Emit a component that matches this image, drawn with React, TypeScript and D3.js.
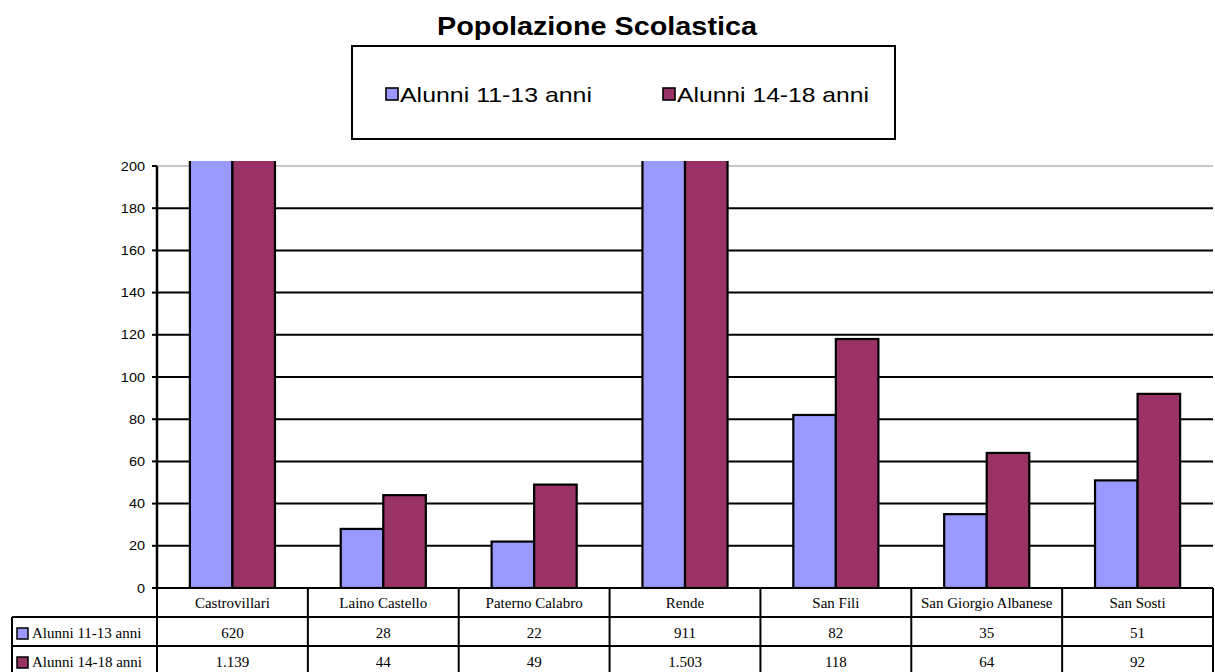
import React from "react";
import * as d3 from "d3";

const categories = [
  "Castrovillari",
  "Laino Castello",
  "Paterno Calabro",
  "Rende",
  "San Fili",
  "San Giorgio Albanese",
  "San Sosti",
];
const seriesNames = ["Alunni 11-13 anni", "Alunni 14-18 anni"];
const alunni1113 = [620, 28, 22, 911, 82, 35, 51];
const alunni1418 = [1139, 44, 49, 1503, 118, 64, 92];
const seriesColors = ["#9999FF", "#993366"];
const title = "Popolazione Scolastica";

const W = 1215;
const H = 672;
const plotLeft = 157;
const plotRight = 1213;
const plotTop = 161;
const yBottom = 588;
const yTopVal = 166;
const rowH = 29;
const legendColLeft = 12;

const it = d3.formatLocale({
  decimal: ",",
  thousands: ".",
  grouping: [3],
  currency: ["€", ""],
});
const fmt = it.format(",d");

export default function App() {
  const series = [alunni1113, alunni1418];
  const x0 = d3.scaleBand<string>().domain(categories).range([plotLeft, plotRight]).padding(0);
  const bw = x0.bandwidth();
  const pad = bw * 0.218;
  const x1 = d3.scaleBand<string>().domain(seriesNames).range([pad, bw - pad]).padding(0);
  const y = d3.scaleLinear().domain([0, 200]).range([yBottom, yTopVal]);
  const ticks = y.ticks(10);
  const sx = 1.16;
  const arial = "Arial, 'Liberation Sans', sans-serif";
  const times = "'Times New Roman', 'Liberation Serif', serif";

  return (
    <svg
      width={W}
      height={H}
      style={{ position: "absolute", left: 0, top: 0, background: "#fff" }}
    >
      <defs>
        <clipPath id="plotClip">
          <rect x={plotLeft} y={plotTop} width={plotRight - plotLeft} height={yBottom - plotTop} />
        </clipPath>
      </defs>
      <rect x={0} y={0} width={W} height={H} fill="#fff" />

      {/* Title */}
      <text
        x={437}
        y={35}
        fontFamily={arial}
        fontWeight="bold"
        fontSize={25}
        textLength={320}
        lengthAdjust="spacingAndGlyphs"
        fill="#000"
      >
        {title}
      </text>

      {/* Legend */}
      <rect x={352} y={46} width={543} height={93} fill="#fff" stroke="#000" strokeWidth={2} />
      {seriesNames.map((name, i) => {
        const lx = i === 0 ? 386 : 663;
        return (
          <g key={name}>
            <rect x={lx} y={88} width={12} height={12} fill={seriesColors[i]} stroke="#000" strokeWidth={1.6} />
            <text
              x={lx + 14}
              y={102}
              fontFamily={arial}
              fontSize={21}
              textLength={192}
              lengthAdjust="spacingAndGlyphs"
              fill="#000"
            >
              {name}
            </text>
          </g>
        );
      })}

      {/* Gridlines */}
      {ticks
        .filter((t) => t > 0)
        .map((t) => (
          <line
            key={"g" + t}
            x1={plotLeft}
            x2={plotRight}
            y1={y(t)}
            y2={y(t)}
            stroke={t === 200 ? "#c8c8c8" : "#000"}
            strokeWidth={2}
          />
        ))}

      {/* Bars */}
      <g clipPath="url(#plotClip)">
        {categories.map((c, ci) => (
          <g key={c} transform={`translate(${x0(c)},0)`}>
            {seriesNames.map((s, si) => {
              const v = series[si][ci];
              const top = y(v);
              return (
                <rect
                  key={s}
                  x={x1(s)}
                  y={top}
                  width={x1.bandwidth()}
                  height={yBottom - top}
                  fill={seriesColors[si]}
                  stroke="#000"
                  strokeWidth={2.2}
                />
              );
            })}
          </g>
        ))}
      </g>

      {/* Y axis */}
      <line x1={plotLeft} x2={plotLeft} y1={y(200)} y2={yBottom} stroke="#000" strokeWidth={2.5} />
      {ticks.map((t) => (
        <g key={"t" + t}>
          <line x1={plotLeft - 5} x2={plotLeft} y1={y(t)} y2={y(t)} stroke="#000" strokeWidth={2} />
          <text
            transform={`translate(${plotLeft - 12},${y(t) + 4.5}) scale(${sx},1)`}
            textAnchor="end"
            fontFamily={arial}
            fontSize={12.5}
            fill="#000"
          >
            {t}
          </text>
        </g>
      ))}

      {/* Data table */}
      <g fontFamily={times} fontSize={15} fill="#000">
        {/* header row */}
        {categories.map((c) => (
          <text key={"h" + c} x={(x0(c) as number) + bw / 2} y={yBottom + 20} textAnchor="middle">
            {c}
          </text>
        ))}
        {seriesNames.map((s, si) => {
          const rowTop = yBottom + rowH * (si + 1);
          return (
            <g key={"r" + s}>
              <rect
                x={legendColLeft + 5}
                y={rowTop + 11}
                width={11}
                height={11}
                fill={seriesColors[si]}
                stroke="#000"
                strokeWidth={1.5}
              />
              <text x={legendColLeft + 20} y={rowTop + 21}>
                {s}
              </text>
              {categories.map((c, ci) => (
                <text key={c} x={(x0(c) as number) + bw / 2} y={rowTop + 21} textAnchor="middle">
                  {fmt(series[si][ci])}
                </text>
              ))}
            </g>
          );
        })}
      </g>
      <g stroke="#000" strokeWidth={2} fill="none">
        <line x1={plotLeft} x2={plotRight} y1={yBottom} y2={yBottom} />
        <line x1={legendColLeft} x2={plotRight} y1={yBottom + rowH} y2={yBottom + rowH} />
        <line x1={legendColLeft} x2={plotRight} y1={yBottom + rowH * 2} y2={yBottom + rowH * 2} />
        <line x1={legendColLeft} x2={legendColLeft} y1={yBottom + rowH} y2={H + 5} />
        {categories.map((c) => (
          <line key={"v" + c} x1={x0(c)} x2={x0(c)} y1={yBottom} y2={H + 5} />
        ))}
        <line x1={plotRight} x2={plotRight} y1={yBottom} y2={H + 5} />
      </g>
    </svg>
  );
}
